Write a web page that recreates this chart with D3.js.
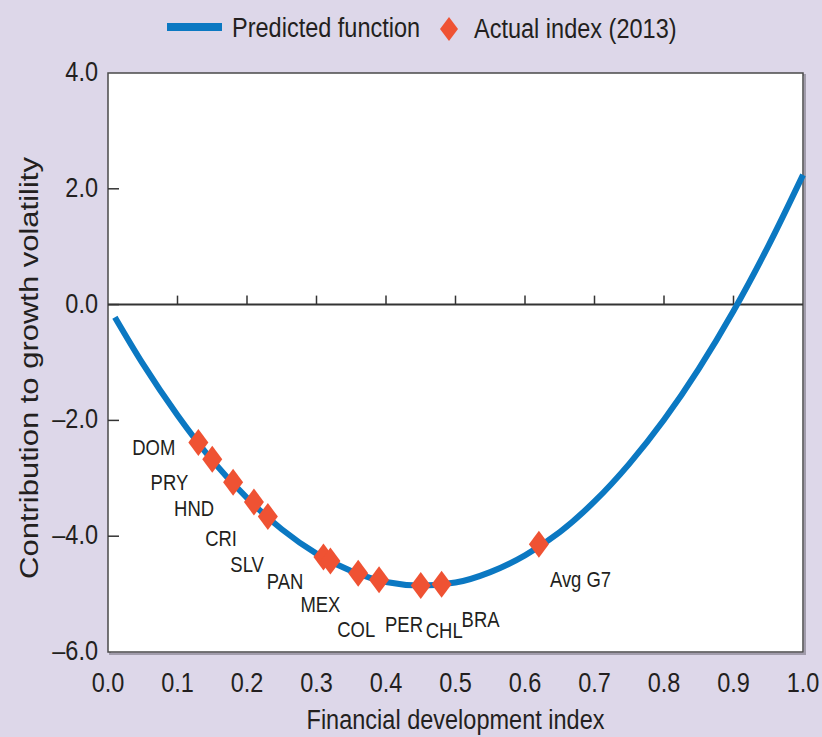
<!DOCTYPE html>
<html>
<head>
<meta charset="utf-8">
<script src="https://cdn.jsdelivr.net/npm/d3@7"></script>
<style>
  body { margin: 0; background: #ddd7e9; }
  svg { display: block; }
  text { font-family: "Liberation Sans", Arial, sans-serif; fill: #231f20; }
</style>
</head>
<body>
<div id="container"></div>
<script>
// predicted function
const curveX = [0.01, 0.05, 0.10, 0.15, 0.20, 0.25, 0.30, 0.35, 0.40, 0.45, 0.50,
                0.55, 0.60, 0.65, 0.70, 0.75, 0.80, 0.85, 0.90, 0.95, 1.00];
const curveY = [-0.22, -1.02, -1.91, -2.69, -3.34, -3.88, -4.30, -4.60, -4.79, -4.85, -4.80,
                -4.62, -4.33, -3.93, -3.40, -2.75, -1.99, -1.11, -0.11, 1.01, 2.24];

// actual index (2013)
const countries = ["DOM", "PRY", "HND", "CRI", "SLV", "PAN", "MEX", "COL", "PER", "CHL", "BRA", "Avg G7"];
const finDev = [0.13, 0.15, 0.18, 0.21, 0.23, 0.31, 0.32, 0.36, 0.39, 0.45, 0.48, 0.62];
const contrib = [-2.38, -2.67, -3.07, -3.41, -3.66, -4.36, -4.43, -4.64, -4.75, -4.85, -4.83, -4.14];

const xTicks = [0, 0.1, 0.2, 0.3, 0.4, 0.5, 0.6, 0.7, 0.8, 0.9, 1.0];
const yTicks = [4, 2, 0, -2, -4, -6];

// label placement next to each diamond (px)
const labelNudge = [
    [-23, 13, "end"], [-24, 31, "end"], [-19, 34, "end"], [-17, 44, "end"],
    [-4, 55, "end"], [-20, 32, "end"], [10, 51, "end"], [-2, 64, "middle"],
    [6, 52, "start"], [5, 53, "start"], [20, 43, "start"], [11, 43, "start"]
];

const width = 822, height = 737;
const plotL = 108, plotR = 803, plotT = 73, plotB = 652;
const squeeze = 0.84; // text in the picture is horizontally condensed

const x = d3.scaleLinear().domain([0, 1]).range([plotL, plotR]);
const y = d3.scaleLinear().domain([-6, 4]).range([plotB, plotT]);

const svg = d3.select("#container").append("svg")
    .attr("width", width)
    .attr("height", height);

svg.append("rect")
    .attr("width", width)
    .attr("height", height)
    .attr("fill", "#ddd7e9");

// plot area with shadow
svg.append("rect")
    .attr("x", plotL + 2).attr("y", plotT + 2)
    .attr("width", plotR - plotL).attr("height", plotB - plotT)
    .attr("fill", "none").attr("stroke", "#a19cab").attr("stroke-width", 2);
svg.append("rect")
    .attr("x", plotL).attr("y", plotT)
    .attr("width", plotR - plotL).attr("height", plotB - plotT)
    .attr("fill", "#fff").attr("stroke", "#4a4a4a").attr("stroke-width", 1.5);

function sText(sel, px, py, str, size, anchor) {
    return sel.append("text")
        .attr("transform", `translate(${px},${py}) scale(${squeeze},1)`)
        .attr("text-anchor", anchor)
        .attr("font-size", size)
        .text(str);
}

// y axis ticks and labels
yTicks.forEach(t => {
    if (t < 4 && t > -6) {
        svg.append("line")
            .attr("x1", plotL).attr("x2", plotL + 11)
            .attr("y1", y(t)).attr("y2", y(t))
            .attr("stroke", "#333").attr("stroke-width", 1.5);
    }
    const lab = t < 0 ? "\u2013" + Math.abs(t).toFixed(1) : t.toFixed(1);
    sText(svg, plotL - 10, y(t) + 8, lab, 28, "end");
});

// zero line with ticks
svg.append("line")
    .attr("x1", plotL).attr("x2", plotR)
    .attr("y1", y(0)).attr("y2", y(0))
    .attr("stroke", "#333").attr("stroke-width", 2);

xTicks.forEach(t => {
    if (t > 0 && t < 1) {
        svg.append("line")
            .attr("x1", x(t)).attr("x2", x(t))
            .attr("y1", y(0)).attr("y2", y(0) - 9)
            .attr("stroke", "#333").attr("stroke-width", 1.5);
    }
    sText(svg, x(t), 692, t.toFixed(1), 28, "middle");
});

// axis titles
sText(svg, (plotL + plotR) / 2, 729, "Financial development index", 28, "middle");
svg.append("text")
    .attr("transform", `translate(38,368) rotate(-90) scale(1,${squeeze})`)
    .attr("text-anchor", "middle")
    .attr("font-size", 31)
    .text("Contribution to growth volatility");

// predicted function
const line = d3.line()
    .x(d => x(d[0]))
    .y(d => y(d[1]))
    .curve(d3.curveMonotoneX);

svg.append("path")
    .datum(curveX.map((v, i) => [v, curveY[i]]))
    .attr("d", line)
    .attr("fill", "none")
    .attr("stroke", "#0b78c2")
    .attr("stroke-width", 6);

// diamonds
const dw = 10, dh = 13.5;
const diamond = `M0,${-dh}L${dw},0L0,${dh}L${-dw},0Z`;

countries.forEach((c, i) => {
    const px = x(finDev[i]), py = y(contrib[i]);
    svg.append("path")
        .attr("d", diamond)
        .attr("transform", `translate(${px},${py})`)
        .attr("fill", "#ef5233");
    const n = labelNudge[i];
    sText(svg, px + n[0], py + n[1], c, 22, n[2]);
});

// legend
svg.append("line")
    .attr("x1", 167).attr("x2", 222)
    .attr("y1", 27).attr("y2", 27)
    .attr("stroke", "#0b78c2").attr("stroke-width", 8);
sText(svg, 232, 37, "Predicted function", 28, "start");
svg.append("path")
    .attr("d", `M0,-12L9,0L0,12L-9,0Z`)
    .attr("transform", "translate(449,29)")
    .attr("fill", "#ef5233");
sText(svg, 474, 38, "Actual index (2013)", 28, "start");
</script>
</body>
</html>
